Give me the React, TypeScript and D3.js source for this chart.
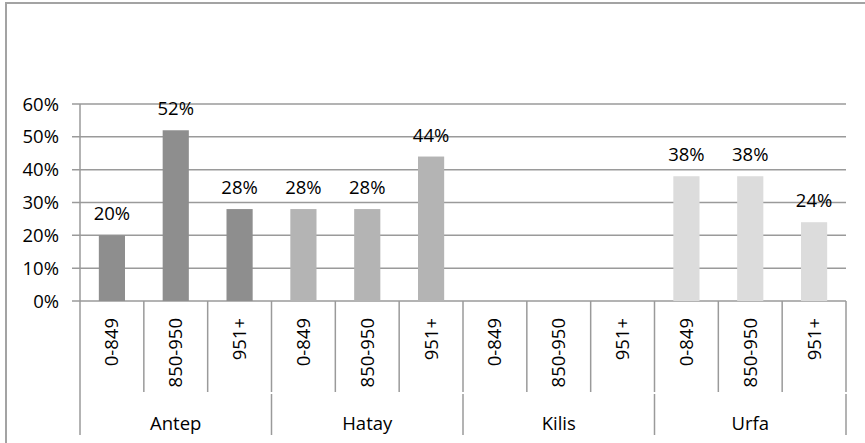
import {useEffect, useRef} from 'react';
import * as d3 from 'd3';

// data
const regions = ['Antep', 'Hatay', 'Kilis', 'Urfa'];
const brackets = ['0-849', '850-950', '951+'];
const antepValues = [0.20, 0.52, 0.28];
const hatayValues = [0.28, 0.28, 0.44];
const kilisValues: (number | null)[] = [null, null, null];
const urfaValues = [0.38, 0.38, 0.24];
const yTicks = [0, 0.1, 0.2, 0.3, 0.4, 0.5, 0.6];

const seriesValues = [antepValues, hatayValues, kilisValues, urfaValues];
const regionColors = ['#8e8e8e', '#b4b4b4', '#c8c8c8', '#dcdcdc'];

// parameters
const width = 865;
const height = 443;
const left = 80;
const right = 846;
const top = 104;
const bottom = 301;
const tickRowEnd = 392;
const groupRowStart = 394;
const groupRowEnd = 435;
const lineColor = '#9a9a9a';
const font = '"Open Sans", sans-serif';
const fontSize = 18.5;

export default function App() {
  const ref = useRef<SVGSVGElement>(null);
  useEffect(() => {
    if (!ref.current) return;
    const svg = d3.select(ref.current);
    svg.selectAll('*').remove();

    const rows = regions.flatMap((r, ri) =>
      brackets.map((b, bi) => ({
        key: `${r}-${b}`, region: r, ri, bracket: b, value: seriesValues[ri][bi]
      })));

    const x = d3.scaleBand<string>().domain(rows.map(d => d.key)).range([left, right]);
    const y = d3.scaleLinear().domain([0, 0.6]).range([bottom, top]);
    const barW = x.bandwidth() * 0.41;

    // outer border (left + top only, chart is cropped)
    svg.append('path')
      .attr('d', `M6,${height} V3 H${width}`)
      .attr('fill', 'none')
      .attr('stroke', '#a3a3a3')
      .attr('stroke-width', 2);

    // gridlines + ticks
    svg.append('g').selectAll('line').data(yTicks).enter().append('line')
      .attr('x1', left - 8).attr('x2', right)
      .attr('y1', d => y(d)).attr('y2', d => y(d))
      .attr('stroke', lineColor).attr('stroke-width', 1.5);

    // y labels
    svg.append('g').selectAll('text').data(yTicks).enter().append('text')
      .attr('x', 59).attr('y', d => y(d) + 6.5)
      .attr('text-anchor', 'end')
      .style('font-family', font).style('font-size', `${fontSize}px`)
      .text(d => d3.format('.0%')(d));

    // bars
    svg.append('g').selectAll('rect').data(rows.filter(d => d.value != null)).enter().append('rect')
      .attr('x', d => x(d.key)! + (x.bandwidth() - barW) / 2)
      .attr('width', barW)
      .attr('y', d => y(d.value as number))
      .attr('height', d => bottom - y(d.value as number))
      .attr('fill', d => regionColors[d.ri]);

    // y axis
    svg.append('line')
      .attr('x1', left).attr('x2', left).attr('y1', top).attr('y2', groupRowEnd)
      .attr('stroke', lineColor).attr('stroke-width', 1.5);

    // value labels
    svg.append('g').selectAll('text').data(rows.filter(d => d.value != null)).enter().append('text')
      .attr('x', d => x(d.key)! + x.bandwidth() / 2)
      .attr('y', d => y(d.value as number) - 15)
      .attr('text-anchor', 'middle')
      .style('font-family', font).style('font-size', `${fontSize}px`)
      .text(d => d3.format('.0%')(d.value as number));

    // tick separators
    svg.append('g').selectAll('line').data(rows).enter().append('line')
      .attr('x1', d => x(d.key)! + x.bandwidth()).attr('x2', d => x(d.key)! + x.bandwidth())
      .attr('y1', bottom).attr('y2', tickRowEnd)
      .attr('stroke', lineColor).attr('stroke-width', 1.5);

    // tick labels (rotated)
    svg.append('g').selectAll('text').data(rows).enter().append('text')
      .attr('transform', d => `translate(${x(d.key)! + x.bandwidth() / 2 + 6.5},318) rotate(-90)`)
      .attr('text-anchor', 'end')
      .style('font-family', font).style('font-size', `${fontSize}px`)
      .text(d => d.bracket);

    // group separators
    const groupEdges = regions.map(r => x(`${r}-${brackets[brackets.length - 1]}`)! + x.bandwidth());
    svg.append('g').selectAll('line').data(groupEdges).enter().append('line')
      .attr('x1', d => d).attr('x2', d => d)
      .attr('y1', groupRowStart).attr('y2', groupRowEnd)
      .attr('stroke', lineColor).attr('stroke-width', 1.5);

    // group labels
    svg.append('g').selectAll('text').data(regions).enter().append('text')
      .attr('x', r => (x(`${r}-${brackets[0]}`)! + x(`${r}-${brackets[2]}`)! + x.bandwidth()) / 2)
      .attr('y', 430)
      .attr('text-anchor', 'middle')
      .style('font-family', font).style('font-size', `${fontSize}px`)
      .text(r => r);
  }, []);
  return <svg
    ref={ref}
    width={width}
    height={height}
    style={{position: 'absolute', left: 0, top: 0, background: 'white'}}
  />;
}
